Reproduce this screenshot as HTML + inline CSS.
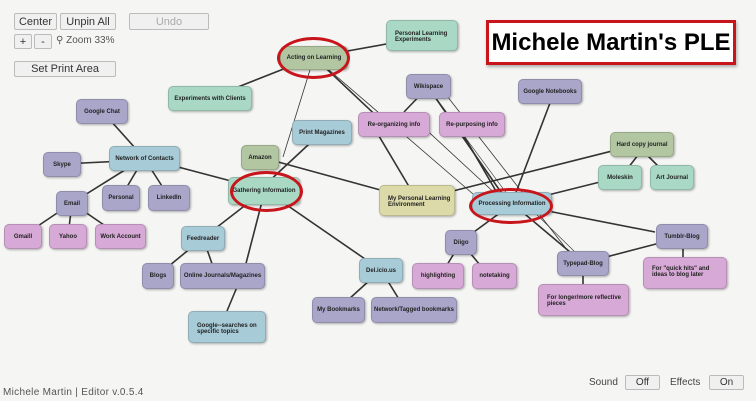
<!DOCTYPE html>
<html><head><meta charset="utf-8"><style>
body{margin:0;width:756px;height:401px;background:#f5f5f3;overflow:hidden;position:relative;font-family:"Liberation Sans",sans-serif}
.n{position:absolute;border-radius:5px;font-size:6px;font-weight:bold;color:#222;display:flex;align-items:center;justify-content:center;text-align:center;box-shadow:1px 1px 2px rgba(0,0,0,.3);line-height:6px;box-sizing:border-box;border:1px solid rgba(0,0,0,.15)}
.p{background:#a9a6c9}.k{background:#d7a9d6}.t{background:#a9d9c5}.b{background:#a8cbd8}.s{background:#b2c6a2}.y{background:#dcdaa8}
.l{justify-content:flex-start;text-align:left;padding-left:8px;align-items:flex-start;padding-top:8px}
.btn{position:absolute;background:#f0f0f0;border:1px solid #bbb;border-radius:2px;font-size:11px;color:#333;display:flex;align-items:center;justify-content:center;box-sizing:border-box}
.ell{position:absolute;border:3px solid #c8151b;border-radius:50%;box-sizing:border-box}
</style></head><body>
<svg width="756" height="401" style="position:absolute;left:0;top:0">
<g stroke="#333" stroke-width="1.6" fill="none">
<line x1="314" y1="57" x2="420" y2="38"/>
<line x1="314" y1="57" x2="210" y2="98"/>
<line x1="314" y1="57" x2="283" y2="157" stroke-width="0.8"/>
<line x1="314" y1="57" x2="385" y2="124"/>
<line x1="314" y1="57" x2="480" y2="200" stroke-width="0.8"/>
<line x1="102" y1="111" x2="144" y2="158"/>
<line x1="62" y1="164" x2="144" y2="160"/>
<line x1="144" y1="158" x2="265" y2="190"/>
<line x1="144" y1="158" x2="72" y2="203"/>
<line x1="144" y1="158" x2="121" y2="197"/>
<line x1="144" y1="158" x2="169" y2="197"/>
<line x1="72" y1="203" x2="23" y2="236"/>
<line x1="72" y1="203" x2="68" y2="236"/>
<line x1="72" y1="203" x2="120" y2="236"/>
<line x1="322" y1="132" x2="265" y2="185"/>
<line x1="260" y1="157" x2="417" y2="200"/>
<line x1="265" y1="190" x2="203" y2="238"/>
<line x1="265" y1="190" x2="243" y2="275"/>
<line x1="265" y1="190" x2="381" y2="270"/>
<line x1="203" y1="238" x2="158" y2="275"/>
<line x1="203" y1="238" x2="216" y2="275"/>
<line x1="237" y1="287" x2="227" y2="311"/>
<line x1="381" y1="270" x2="338" y2="309"/>
<line x1="381" y1="270" x2="405" y2="309"/>
<line x1="417" y1="200" x2="373" y2="126"/>
<line x1="417" y1="200" x2="640" y2="144"/>
<line x1="428" y1="87" x2="404" y2="112"/>
<line x1="428" y1="87" x2="505" y2="198"/>
<line x1="428" y1="87" x2="510" y2="198" stroke-width="0.6"/>
<line x1="440" y1="87" x2="568" y2="251" stroke-width="0.8"/>
<line x1="420" y1="124" x2="500" y2="198" stroke-width="0.8"/>
<line x1="464" y1="136" x2="500" y2="198"/>
<line x1="550" y1="103" x2="515" y2="195"/>
<line x1="512" y1="204" x2="620" y2="177"/>
<line x1="512" y1="204" x2="655" y2="232"/>
<line x1="512" y1="204" x2="463" y2="240"/>
<line x1="520" y1="210" x2="570" y2="252"/>
<line x1="530" y1="208" x2="575" y2="252" stroke-width="0.6"/>
<line x1="642" y1="150" x2="628" y2="168"/>
<line x1="642" y1="150" x2="660" y2="168"/>
<line x1="461" y1="242" x2="447" y2="265"/>
<line x1="461" y1="242" x2="480" y2="265"/>
<line x1="583" y1="263" x2="683" y2="237"/>
<line x1="583" y1="263" x2="583" y2="284"/>
<line x1="683" y1="237" x2="683" y2="258"/>
</g></svg>

<div class="btn" style="left:14px;top:13px;width:43px;height:17px">Center</div>
<div class="btn" style="left:60px;top:13px;width:56px;height:17px">Unpin All</div>
<div class="btn" style="left:129px;top:13px;width:80px;height:17px;color:#aaa">Undo</div>
<div class="btn" style="left:14px;top:34px;width:18px;height:15px">+</div>
<div class="btn" style="left:34px;top:34px;width:18px;height:15px">-</div>
<div style="position:absolute;left:56px;top:35px;font-size:10px;color:#555">⚲ Zoom 33%</div>
<div class="btn" style="left:14px;top:61px;width:102px;height:16px">Set Print Area</div>

<div style="position:absolute;left:486px;top:20px;width:250px;height:45px;border:3px solid #c8151b;background:#fff;box-sizing:border-box;font-size:24px;font-weight:bold;white-space:nowrap;display:flex;align-items:center;justify-content:center;box-shadow:1px 2px 3px rgba(0,0,0,.3)">Michele Martin's PLE</div>

<div class="n s" style="left:280px;top:46px;width:68px;height:24px">Acting on Learning</div>
<div class="n t l" style="left:386px;top:20px;width:72px;height:31px;padding-top:10px">Personal Learning Experiments</div>
<div class="n t" style="left:168px;top:86px;width:84px;height:25px">Experiments with Clients</div>
<div class="n p" style="left:76px;top:99px;width:52px;height:25px">Google Chat</div>
<div class="n b" style="left:292px;top:120px;width:60px;height:25px">Print Magazines</div>
<div class="n p" style="left:406px;top:74px;width:45px;height:25px">Wikispace</div>
<div class="n k" style="left:358px;top:112px;width:72px;height:25px">Re-organizing info</div>
<div class="n k" style="left:439px;top:112px;width:66px;height:25px">Re-purposing info</div>
<div class="n p" style="left:518px;top:79px;width:64px;height:25px">Google Notebooks</div>
<div class="n b" style="left:109px;top:146px;width:71px;height:25px">Network of Contacts</div>
<div class="n p" style="left:43px;top:152px;width:38px;height:25px">Skype</div>
<div class="n s" style="left:241px;top:145px;width:38px;height:25px">Amazon</div>
<div class="n t" style="left:228px;top:177px;width:72px;height:28px">Gathering Information</div>
<div class="n p" style="left:102px;top:185px;width:38px;height:26px">Personal</div>
<div class="n p" style="left:148px;top:185px;width:42px;height:26px">LinkedIn</div>
<div class="n p" style="left:56px;top:191px;width:32px;height:25px">Email</div>
<div class="n y l" style="left:379px;top:185px;width:76px;height:31px;padding-top:10px">My Personal Learning Environment</div>
<div class="n b" style="left:472px;top:192px;width:80px;height:23px">Processing Information</div>
<div class="n s" style="left:610px;top:132px;width:64px;height:25px">Hard copy journal</div>
<div class="n t" style="left:598px;top:165px;width:44px;height:25px">Moleskin</div>
<div class="n t" style="left:650px;top:165px;width:44px;height:25px">Art Journal</div>
<div class="n k" style="left:4px;top:224px;width:38px;height:25px">Gmaill</div>
<div class="n k" style="left:49px;top:224px;width:38px;height:25px">Yahoo</div>
<div class="n k" style="left:95px;top:224px;width:51px;height:25px">Work Account</div>
<div class="n b" style="left:181px;top:226px;width:44px;height:25px">Feedreader</div>
<div class="n p" style="left:445px;top:230px;width:32px;height:25px">Diigo</div>
<div class="n p" style="left:656px;top:224px;width:52px;height:25px">Tumblr-Blog</div>
<div class="n p" style="left:142px;top:263px;width:32px;height:26px">Blogs</div>
<div class="n p" style="left:180px;top:263px;width:85px;height:26px">Online Journals/Magazines</div>
<div class="n b" style="left:359px;top:258px;width:44px;height:25px">Del.icio.us</div>
<div class="n k" style="left:412px;top:263px;width:52px;height:26px">highlighting</div>
<div class="n k" style="left:472px;top:263px;width:45px;height:26px">notetaking</div>
<div class="n p" style="left:557px;top:251px;width:52px;height:25px">Typepad-Blog</div>
<div class="n k l" style="left:643px;top:257px;width:84px;height:32px">For "quick hits" and ideas to blog later</div>
<div class="n k l" style="left:538px;top:284px;width:91px;height:32px;padding-top:10px">For longer/more reflective pieces</div>
<div class="n p" style="left:312px;top:297px;width:53px;height:26px">My Bookmarks</div>
<div class="n p" style="left:371px;top:297px;width:86px;height:26px">Network/Tagged bookmarks</div>
<div class="n b l" style="left:188px;top:311px;width:78px;height:32px;padding-top:11px">Google--searches on specific topics</div>

<div class="ell" style="left:277px;top:37px;width:73px;height:42px"></div>
<div class="ell" style="left:230px;top:171px;width:73px;height:41px"></div>
<div class="ell" style="left:469px;top:188px;width:84px;height:36px"></div>

<div style="position:absolute;left:3px;top:387px;font-size:10px;color:#555;letter-spacing:.3px">Michele Martin | Editor v.0.5.4</div>
<div style="position:absolute;left:589px;top:377px;font-size:10px;color:#444">Sound</div>
<div class="btn" style="left:625px;top:375px;width:35px;height:15px;font-size:10px">Off</div>
<div style="position:absolute;left:670px;top:377px;font-size:10px;color:#444">Effects</div>
<div class="btn" style="left:709px;top:375px;width:35px;height:15px;font-size:10px">On</div>
</body></html>
